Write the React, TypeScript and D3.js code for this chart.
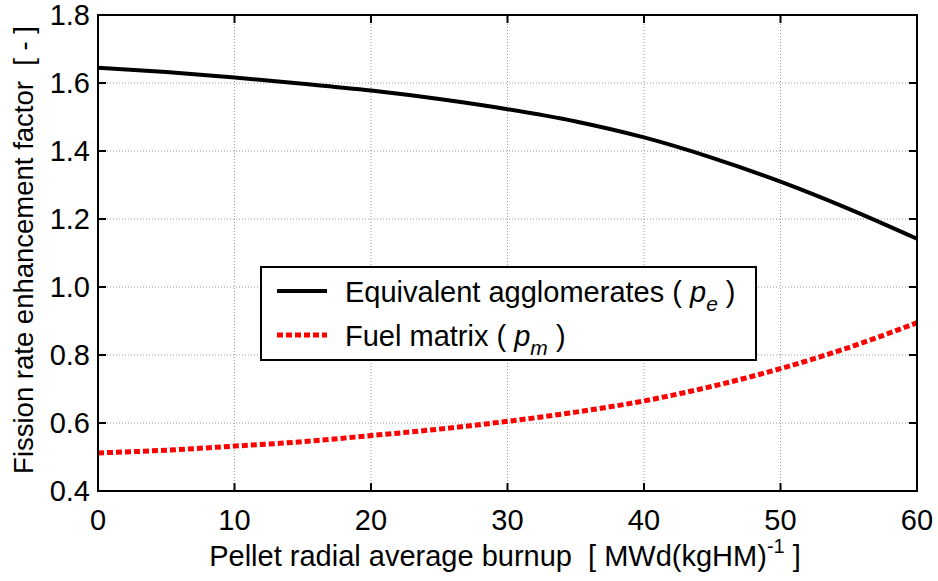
import React from "react";
import * as d3 from "d3";

const burnup = [0, 5, 10, 15, 20, 25, 30, 35, 40, 45, 50, 55, 60];
const agglomerates = [1.645, 1.632, 1.616, 1.598, 1.578, 1.553, 1.523, 1.487, 1.44, 1.38, 1.31, 1.23, 1.142];
const matrix = [0.512, 0.52, 0.532, 0.545, 0.563, 0.582, 0.605, 0.632, 0.665, 0.708, 0.76, 0.822, 0.895];
const xTicks = [0, 10, 20, 30, 40, 50, 60];
const yTicks = [0.4, 0.6, 0.8, 1.0, 1.2, 1.4, 1.6, 1.8];

const W = 938, H = 581;
const m = { left: 98, right: 917, top: 15, bottom: 491 };
const FONT = "'Liberation Sans', Arial, sans-serif";

export default function App() {
  const x = d3.scaleLinear().domain([0, 60]).range([m.left, m.right]);
  const y = d3.scaleLinear().domain([0.4, 1.8]).range([m.bottom, m.top]);
  const line = d3.line<[number, number]>().x(d => x(d[0])).y(d => y(d[1])).curve(d3.curveMonotoneX);
  const aggPath = line(burnup.map((b, i) => [b, agglomerates[i]]) as [number, number][]) || "";
  const matPath = line(burnup.map((b, i) => [b, matrix[i]]) as [number, number][]) || "";
  const tl = 8;
  return (
    <svg width={W} height={H} style={{ position: "absolute", left: 0, top: 0, background: "#fff" }} fontFamily={FONT}>
      <rect x={0} y={0} width={W} height={H} fill="#fff" />
      {/* grid */}
      {xTicks.slice(1, -1).map(t => (
        <line key={"gx" + t} x1={x(t)} x2={x(t)} y1={m.top} y2={m.bottom} stroke="#999" strokeWidth={1} strokeDasharray="1,2" />
      ))}
      {yTicks.slice(1, -1).map(t => (
        <line key={"gy" + t} x1={m.left} x2={m.right} y1={y(t)} y2={y(t)} stroke="#999" strokeWidth={1} strokeDasharray="1,2" />
      ))}
      {/* ticks */}
      {xTicks.map(t => (
        <g key={"tx" + t}>
          <line x1={x(t)} x2={x(t)} y1={m.bottom} y2={m.bottom - tl} stroke="#000" strokeWidth={2} />
          <line x1={x(t)} x2={x(t)} y1={m.top} y2={m.top + tl} stroke="#000" strokeWidth={2} />
          <text x={x(t)} y={m.bottom + 39} textAnchor="middle" fontSize={29} fill="#000">{t}</text>
        </g>
      ))}
      {yTicks.map(t => (
        <g key={"ty" + t}>
          <line x1={m.left} x2={m.left + tl} y1={y(t)} y2={y(t)} stroke="#000" strokeWidth={2} />
          <line x1={m.right} x2={m.right - tl} y1={y(t)} y2={y(t)} stroke="#000" strokeWidth={2} />
          <text x={m.left - 8} y={y(t) + 10} textAnchor="end" fontSize={29} fill="#000">{t.toFixed(1)}</text>
        </g>
      ))}
      {/* curves */}
      <path d={aggPath} fill="none" stroke="#000" strokeWidth={4} />
      <path d={matPath} fill="none" stroke="#f00" strokeWidth={5} strokeDasharray="6,3" />
      {/* frame */}
      <rect x={m.left} y={m.top} width={m.right - m.left} height={m.bottom - m.top} fill="none" stroke="#000" strokeWidth={2} />
      {/* legend */}
      <rect x={261} y={267} width={495} height={93} fill="#fff" stroke="#000" strokeWidth={2} />
      <line x1={277} x2={327} y1={291} y2={291} stroke="#000" strokeWidth={4} />
      <line x1={277} x2={327} y1={335} y2={335} stroke="#f00" strokeWidth={5} strokeDasharray="6,3" />
      <text x={345} y={302} fontSize={29} fill="#000" xmlSpace="preserve">
        <tspan>Equivalent agglomerates ( </tspan>
        <tspan fontStyle="italic">p</tspan>
        <tspan fontStyle="italic" fontSize={21} dy={9}>e</tspan>
        <tspan dy={-9}> )</tspan>
      </text>
      <text x={345} y={346} fontSize={29} fill="#000" xmlSpace="preserve">
        <tspan>Fuel matrix ( </tspan>
        <tspan fontStyle="italic">p</tspan>
        <tspan fontStyle="italic" fontSize={21} dy={9}>m</tspan>
        <tspan dy={-9}> )</tspan>
      </text>
      {/* axis titles */}
      <text x={505} y={566} textAnchor="middle" fontSize={29} fill="#000" xmlSpace="preserve">
        <tspan>Pellet radial average burnup  [ MWd(kgHM)</tspan>
        <tspan fontSize={20} dy={-13}>-1</tspan>
        <tspan dy={13}> ]</tspan>
      </text>
      <text transform={`translate(33,250) rotate(-90)`} textAnchor="middle" fontSize={27.5} fill="#000" xmlSpace="preserve">
        Fission rate enhancement factor  [ - ]
      </text>
    </svg>
  );
}
